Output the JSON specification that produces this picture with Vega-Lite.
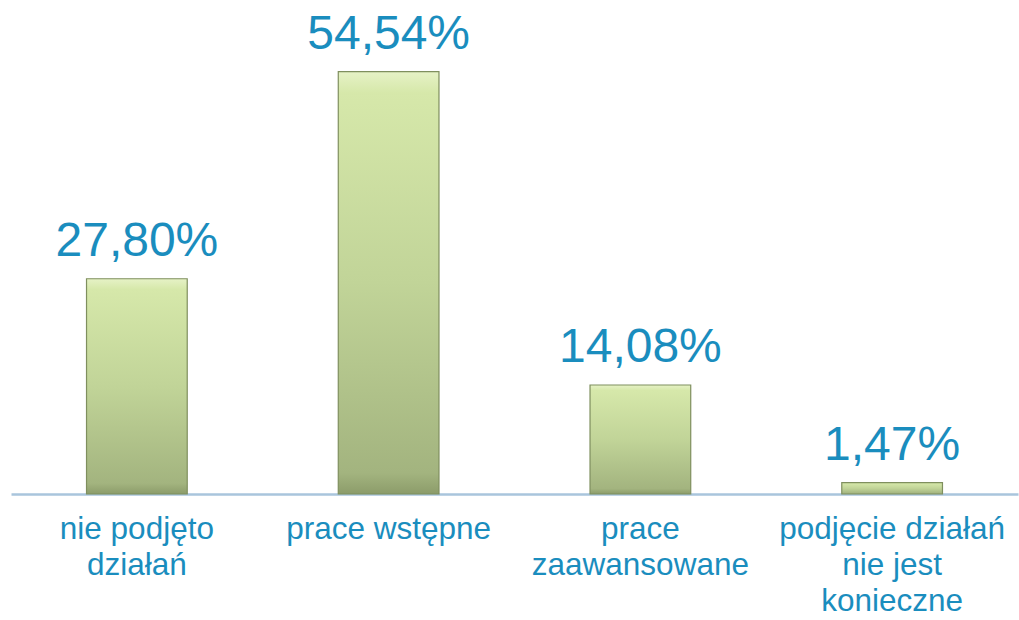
{
  "$schema": "https://vega.github.io/schema/vega-lite/v6.json",
  "width": 1007,
  "height": 494,
  "autosize": "none",
  "padding": {"left": 11, "top": 0, "right": 1, "bottom": 126},
  "background": "white",
  "data": {
    "values": [
      {"kategoria": "nie podjęto działań", "procent": 27.80, "etykieta": "27,80%"},
      {"kategoria": "prace wstępne", "procent": 54.54, "etykieta": "54,54%"},
      {"kategoria": "prace zaawansowane", "procent": 14.08, "etykieta": "14,08%"},
      {"kategoria": "podjęcie działań nie jest konieczne", "procent": 1.47, "etykieta": "1,47%"}
    ]
  },
  "encoding": {
    "x": {
      "field": "kategoria",
      "type": "nominal",
      "sort": null,
      "scale": {"paddingInner": 0.6, "paddingOuter": 0.3},
      "axis": {
        "title": null,
        "labelAngle": 0,
        "ticks": false,
        "domainColor": "#a9c5dc",
        "domainWidth": 2.5,
        "labelColor": "#1a8dbe",
        "labelFont": "Liberation Sans",
        "labelFontSize": 31.5,
        "labelLineHeight": 36,
        "labelPadding": 19,
        "labelBaseline": "top",
        "labelLimit": 400,
        "labelExpr": "datum.value == 'nie podjęto działań' ? ['nie podjęto', 'działań'] : datum.value == 'prace zaawansowane' ? ['prace', 'zaawansowane'] : datum.value == 'podjęcie działań nie jest konieczne' ? ['podjęcie działań', 'nie jest', 'konieczne'] : datum.value"
      }
    },
    "y": {
      "field": "procent",
      "type": "quantitative",
      "scale": {"domain": [0, 63.8], "nice": false},
      "axis": null
    }
  },
  "layer": [
    {
      "mark": {
        "type": "bar",
        "stroke": "#7f8f5e",
        "strokeWidth": 1.2,
        "fill": {
          "x1": 0, "y1": 0, "x2": 0, "y2": 1,
          "gradient": "linear",
          "stops": [
            {"offset": 0, "color": "#e6f2c6"},
            {"offset": 0.05, "color": "#d6e8aa"},
            {"offset": 0.5, "color": "#c1d498"},
            {"offset": 0.95, "color": "#a3b47f"},
            {"offset": 1, "color": "#8c9c6a"}
          ]
        }
      }
    },
    {
      "mark": {
        "type": "text",
        "font": "Liberation Sans",
        "fontSize": 48,
        "color": "#1a8dbe",
        "baseline": "alphabetic",
        "dy": -23
      },
      "encoding": {"text": {"field": "etykieta"}}
    }
  ],
  "config": {"view": {"stroke": null}}
}
